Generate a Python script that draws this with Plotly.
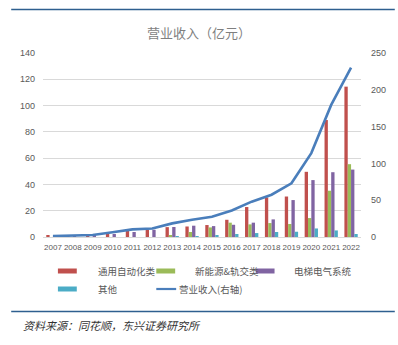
import plotly.graph_objects as go

years = [str(y) for y in range(2007, 2023)]
automation = [1.0, 0.3, 1.7, 2.7, 5.0, 5.5, 7.5, 8.0, 9.1, 13.1, 22.8, 30.1, 30.8, 49.6, 89.0, 114.4]
newenergy = [0.0, 0.0, 0.0, 0.0, 0.0, 0.0, 1.0, 3.8, 7.3, 10.9, 9.6, 10.6, 9.9, 14.4, 35.2, 55.4]
elevator = [0.2, 0.3, 1.7, 2.3, 3.8, 5.5, 7.6, 8.6, 8.3, 9.3, 10.9, 13.4, 28.1, 43.3, 49.3, 51.3]
others = [0.0, 0.0, 0.0, 0.0, 0.0, 0.0, 0.2, 0.5, 1.0, 2.3, 3.0, 3.8, 4.0, 6.5, 5.0, 2.3]
revenue = [1.2, 1.8, 2.8, 6.5, 10.3, 11.5, 18.5, 23.5, 27.5, 36.0, 48.0, 57.4, 73.0, 114.0, 179.5, 230.0]

bar_names = ["通用自动化类", "新能源&轨交类", "电梯电气系统", "其他"]
line_name = "营业收入(右轴)"
title_text = "营业收入（亿元）"
source_text = "资料来源：同花顺，东兴证券研究所"
colors = ["#c0504d", "#9bbb59", "#8064a2", "#4bacc6"]
line_color = "#4a7ebb"

W, H = 398, 345
L, R, T, B = 43, 35, 53, 108
PW, PH = W - L - R, H - T - B
BOTTOM = H - B

def px(x):
    return (x - L) / PW

def py(y):
    return (BOTTOM - y) / PH

fig = go.Figure()
for name, vals, c in zip(bar_names, [automation, newenergy, elevator, others], colors):
    fig.add_trace(go.Bar(x=years, y=vals, name=name, marker=dict(color=c, line=dict(width=0)),
                         showlegend=False))
fig.add_trace(go.Scatter(x=years, y=revenue, name=line_name, yaxis="y2", mode="lines",
                         line=dict(color=line_color, width=2.6), showlegend=False))

font_family = "Noto Sans CJK SC, Liberation Sans, sans-serif"
num_family = "Liberation Sans, Arial, sans-serif"
tick_color = "#595959"

shapes = []
annotations = []

# manual legend
legend_items = [
    (58, 271, 96, bar_names[0], colors[0], "bar"),
    (157, 271, 194, bar_names[1], colors[1], "bar"),
    (257, 271, 294, bar_names[2], colors[2], "bar"),
    (58, 289, 96, bar_names[3], colors[3], "bar"),
    (157, 289, 178, line_name, line_color, "line"),
]
for sx, sy, tx, text, c, kind in legend_items:
    if kind == "bar":
        shapes.append(dict(type="rect", xref="paper", yref="paper",
                           x0=px(sx), x1=px(sx + 19), y0=py(sy + 2.5), y1=py(sy - 2.5),
                           fillcolor=c, line=dict(width=0)))
    else:
        shapes.append(dict(type="line", xref="paper", yref="paper",
                           x0=px(sx), x1=px(sx + 20), y0=py(sy), y1=py(sy),
                           line=dict(color=c, width=2.2)))
    annotations.append(dict(text=text, xref="paper", yref="paper", x=px(tx), y=py(sy),
                            xanchor="left", yanchor="middle", showarrow=False,
                            font=dict(size=9.5, color=tick_color, family=font_family)))

# title
annotations.append(dict(text=title_text, xref="paper", yref="paper", x=px(200), y=py(33),
                        xanchor="center", yanchor="middle", showarrow=False,
                        font=dict(size=13, color="#7f7f7f", family=font_family)))
# source
annotations.append(dict(text="<i>" + source_text + "</i>", xref="paper", yref="paper", x=px(21), y=py(325),
                        xanchor="left", yanchor="middle", showarrow=False,
                        font=dict(size=11, color="#333333", family=font_family)))
# frame lines
for yy in (9.5, 311.5):
    shapes.append(dict(type="line", xref="paper", yref="paper", x0=px(11), x1=px(397),
                       y0=py(yy), y1=py(yy), line=dict(color="#2e5f8f", width=1.6)))

fig.update_layout(
    width=W, height=H,
    margin=dict(l=L, r=R, t=T, b=B, pad=0),
    paper_bgcolor="white", plot_bgcolor="white",
    barmode="group", bargap=0.33, bargroupgap=0,
    showlegend=False,
    font=dict(family=font_family, size=9, color=tick_color),
    xaxis=dict(type="category", showgrid=False, showline=False, ticks="",
               tickfont=dict(size=8, color=tick_color, family=num_family), tickangle=0,
               ticklabelstandoff=4),
    yaxis=dict(range=[0, 140], dtick=20, showgrid=True, gridcolor="#d9d9d9", gridwidth=1,
               zeroline=True, zerolinecolor="#d9d9d9", zerolinewidth=1, ticks="",
               tickfont=dict(size=9, color=tick_color, family=num_family), ticklabelstandoff=7),
    yaxis2=dict(range=[0, 250], dtick=50, overlaying="y", side="right", showgrid=False,
                zeroline=False, ticks="", tickfont=dict(size=9, color=tick_color, family=num_family),
                ticklabelstandoff=9),
    shapes=shapes,
    annotations=annotations,
)

fig.write_html("out.html")
